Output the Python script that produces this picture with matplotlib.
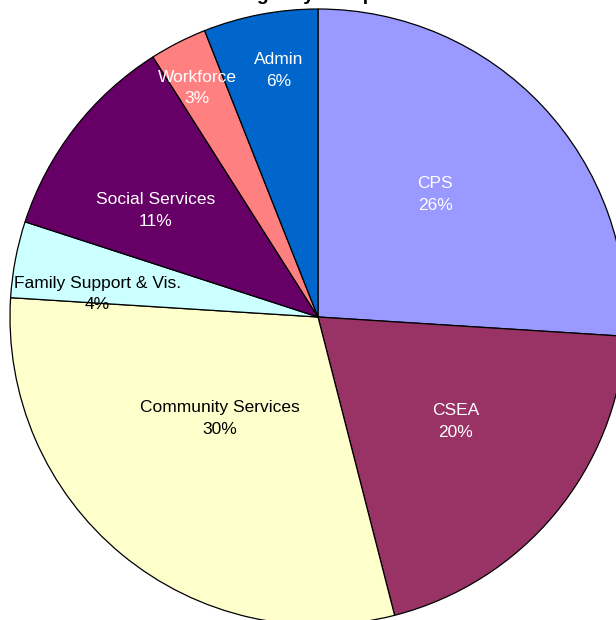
import matplotlib
matplotlib.use("Agg")
import matplotlib.pyplot as plt
import numpy as np

plt.rcParams['font.family'] = ['Liberation Sans', 'DejaVu Sans']

# budget share per component, clockwise from 12 o'clock
labels = ["CPS", "CSEA", "Community Services", "Family Support & Vis.",
          "Social Services", "Workforce", "Admin"]
shares = [26, 20, 30, 4, 11, 3, 6]
colors = ["#9999FF", "#993366", "#FFFFCC", "#CCFFFF", "#660066", "#FF8080", "#0066CC"]
text_colors = ["white", "white", "black", "black", "white", "white", "white"]
# label placement: fraction of radius, and nudge (deg, clockwise) off the wedge middle
label_r = [0.55, 0.56, 0.46, 0.72, 0.63, 0.84, 0.81]
label_da = [-3.0, -2.4, 4.5, -4.8, -4.6, -0.8, 1.8]

W, H = 616, 620
cx, cy, R = 318, H - 317, 308

fig = plt.figure(figsize=(W / 100, H / 100), dpi=100)
ax = fig.add_axes([0, 0, 1, 1])

wedges, _ = ax.pie(shares, colors=colors, startangle=90, counterclock=False,
                   center=(cx, cy), radius=R,
                   wedgeprops=dict(edgecolor="black", linewidth=0.9))

for w, lab, s, tc, f, da in zip(wedges, labels, shares, text_colors, label_r, label_da):
    mid = np.deg2rad((w.theta1 + w.theta2) / 2 - da)
    x = cx + f * R * np.cos(mid)
    y = cy + f * R * np.sin(mid)
    ax.text(x, y, "{}\n{}%".format(lab, s), ha="center", va="center",
            color=tc, fontsize=12.5, linespacing=1.55)

ax.set_xlim(0, W)
ax.set_ylim(0, H)
ax.set_aspect("auto")
ax.axis("off")

# title sits mostly above the top edge
fig.text(0.525, 1.0, "Budget by Component", ha="center", va="baseline",
         fontsize=14, fontweight="bold")

fig.savefig("out.png", dpi=100)
